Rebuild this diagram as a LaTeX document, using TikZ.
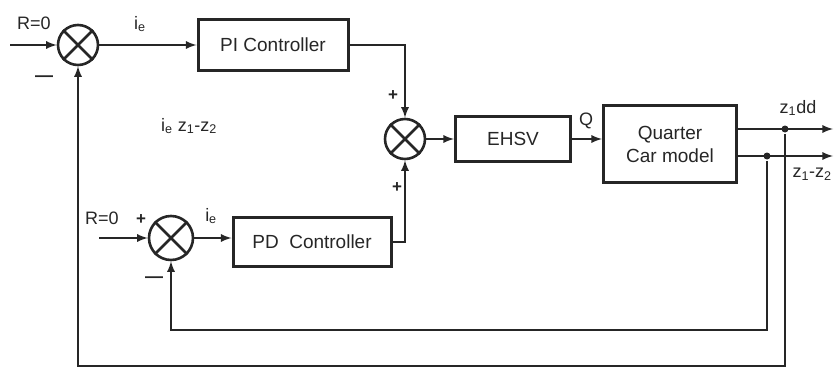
\documentclass[tikz,border=0pt]{standalone}
\usepackage{fontspec}
\setmainfont{Liberation Sans}
\usetikzlibrary{shapes,arrows,positioning}

\begin{document}
\begin{tikzpicture}[x=1pt, y=-1pt, >=latex, line width=2.6pt, draw=black!85, text=black!85,
  blockbox/.style={draw, rectangle, line width=3pt, inner sep=0pt, align=center, font=\fontsize{19}{23}\selectfont},
  sumj/.style={draw, circle, minimum size=40pt, inner sep=0pt},
  lbl/.style={inner sep=0pt, font=\fontsize{18}{20}\selectfont},
  sgn/.style={inner sep=0pt, font=\fontsize{17}{19}\selectfont\bfseries},
  tap/.style={circle, fill=black!85, inner sep=0pt, minimum size=7pt}]
\useasboundingbox (0,0) rectangle (834,369);

% blocks
\node[blockbox, minimum width=150pt, minimum height=50pt] (pi) at (273,45) {PI Controller};
\node[blockbox, minimum width=158pt, minimum height=49pt] (pd) at (312,242) {PD\ \ Controller};
\node[blockbox, minimum width=115pt, minimum height=45pt] (ehsv) at (513,139) {EHSV};
\node[blockbox, minimum width=133pt, minimum height=77pt] (qc) at (670,144) {Quarter\\Car model};

% summing junctions
\node[sumj] (s1) at (78,45) {};
\node[sumj] (s2) at (405,139) {};
\node[sumj, minimum size=44pt] (s3) at (171,238) {};
\foreach \s in {s1,s2,s3}
  \draw (\s.north west) -- (\s.south east) (\s.north east) -- (\s.south west);

% free ends
\coordinate (rA) at (10,45);
\coordinate (rB) at (99,238);
\coordinate (zdd) at (833,129);
\coordinate (zdiff) at (833,156);
\coordinate (fbA) at (785,366);
\coordinate (fbB) at (767,330);
\node[tap] (t1) at (785,129) {};
\node[tap] (t2) at (767,156) {};

% forward path
\draw[->] (rA) -- (s1.west);
\draw[->] (s1.east) -- (pi.west |- s1.east);
\draw[->] (pi.east) -| (s2.north);
\draw[->] (rB) -- (s3.west);
\draw[->] (s3.east) -- (pd.west |- s3.east);
\draw[->] (pd.east) -| (s2.south);
\draw[->] (s2.east) -- (ehsv.west |- s2.east);
\draw[->] (ehsv.east) -- (qc.west |- ehsv.east);
\draw[->] (qc.east |- zdd) -- (zdd);
\draw[->] (qc.east |- zdiff) -- (zdiff);

% feedback
\draw[->] (t1) -- (fbA) -| (s1.south);
\draw[->] (t2) -- (fbB) -| (s3.south);

% labels
\node[lbl] (ra) at (34,23) {R=0};
\node[lbl] (rb) at (102,218) {R=0};
\node[lbl] (iea) at (140,24) {i\textsubscript{e}};
\node[lbl] (ieb) at (211,216) {i\textsubscript{e}};
\node[lbl] (iez) at (189,126) {i\textsubscript{e} z\textsubscript{1}-z\textsubscript{2}};
\node[lbl] (q) at (586,121) {Q};
\node[lbl] (zddl) at (798,108) {z\textsubscript{1}dd};
\node[lbl] (zdl) at (812,174) {z\textsubscript{1}-z\textsubscript{2}};
\node[sgn] (ma) at (44,79) {\fontsize{18}{20}\selectfont ---};
\node[sgn] (mb) at (154,280) {\fontsize{18}{20}\selectfont ---};
\node[sgn] (pa) at (393,96) {+};
\node[sgn] (pb) at (397,188) {+};
\node[sgn] (pc) at (141,220) {+};
\end{tikzpicture}
\end{document}
